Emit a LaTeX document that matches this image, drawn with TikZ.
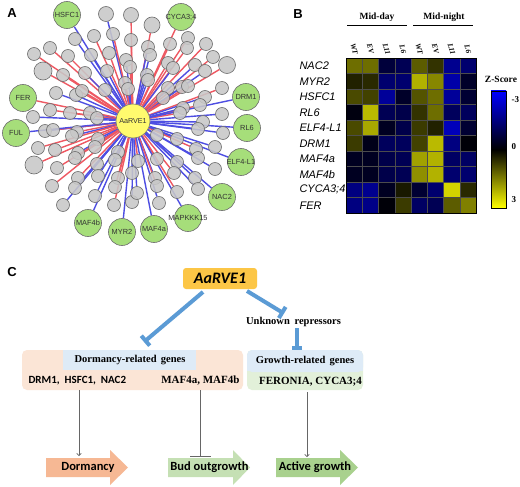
\documentclass[tikz,border=0pt]{standalone}
\usepackage{fontspec}
\setmainfont{Liberation Serif}
\setsansfont{Liberation Sans}
\newfontfamily\calibri{Carlito}
\usetikzlibrary{arrows.meta,backgrounds}
\pgfdeclarelayer{bottom}
\pgfdeclarelayer{background}
\pgfsetlayers{bottom,background,main}
\newcommand{\myfs}[1]{\fontsize{#1}{#1}\selectfont}
\definecolor{edgeR}{RGB}{238,88,98}
\definecolor{edgeB}{RGB}{78,78,226}
\definecolor{grayfill}{RGB}{200,200,200}
\definecolor{grayline}{RGB}{110,110,110}
\definecolor{greenfill}{RGB}{166,222,122}
\definecolor{yelfill}{RGB}{255,250,110}
\definecolor{hmblue}{RGB}{0,0,255}
\definecolor{hmyel}{RGB}{255,255,0}
\definecolor{rvefill}{RGB}{252,198,70}
\definecolor{peach}{RGB}{251,229,214}
\definecolor{lblue}{RGB}{222,235,247}
\definecolor{lgreen}{RGB}{226,240,217}
\definecolor{inhblue}{RGB}{91,155,213}
\definecolor{dormc}{RGB}{246,184,148}
\definecolor{budc}{RGB}{197,224,180}
\definecolor{actc}{RGB}{169,209,142}
\begin{document}
\begin{tikzpicture}[x=1pt,y=-1pt,
  panel/.style={font=\sffamily\bfseries\myfs{13}},
  graynode/.style={circle,draw=grayline,fill=grayfill,fill opacity=0.88,line width=0.6pt,inner sep=0pt},
  greennode/.style={circle,draw=grayline,fill=greenfill,line width=0.6pt,inner sep=0pt,minimum size=27pt,
    label={[font=\sffamily\myfs{7.4},text=black!80]center:#1}},
  centernode/.style={circle,draw=grayline,fill=yelfill,line width=0.6pt,inner sep=0pt,minimum size=34pt,
    font=\sffamily\myfs{7.2},text=black!80},
  eR/.style={draw=edgeR,line width=1.4pt},
  eB/.style={draw=edgeB,line width=1.4pt},
  rowlab/.style={anchor=west,font=\sffamily\itshape\myfs{11}},
  collab/.style={rotate=-75,font=\bfseries\itshape\myfs{7.5},inner sep=0pt},
  hdr/.style={font=\bfseries\myfs{9.5}},
  cbl/.style={anchor=west,font=\bfseries\myfs{9}},
  inh/.style={draw=inhblue,line width=4pt,-{Bar[width=13pt]}},
  inhs/.style={draw=inhblue,line width=4pt,-{Bar[width=10pt]}},
  thin/.style={draw=black!60,line width=0.7pt,-{To[length=3pt,width=5pt]}},
  thinbar/.style={draw=black!60,line width=0.7pt,-{Bar[width=21pt]}},
  boxtxt/.style={font=\bfseries\myfs{10.5}},
  genetxt/.style={font=\bfseries\myfs{11}},
  caltxt/.style={font=\calibri\bfseries\myfs{11}},
  arrtxt/.style={font=\calibri\bfseries\myfs{12.5}}
]
\useasboundingbox (0,0) rectangle (520,487);
\begin{pgfonlayer}{bottom}
\fill[white] (0,0) rectangle (520,487);
\end{pgfonlayer}

% ================= Panel A =================
\node[panel] (lA) at (12,13) {A};
\def\graylist{106/14/7.5/B, 131/15/7.5/R, 94/36/6.5/R, 113/34/6.5/R, 75/39/6.5/B, 131/40/6.5/R, 50/48/6.5/R, 34/54/6.5/R, 68/56/6.5/R, 91/55/6.5/B, 109/53/6.5/R, 126/60/6.5/B, 43/71/9/R, 63/75/6.5/R, 85/73/6.5/B, 107/71/6.5/B, 130/67/6.5/R, 56/93/6.5/B, 76/95/6.5/B, 82/91/6.5/R, 105/90/6.5/B, 125/83/6.5/R, 128/89/6.5/B, 50/110/6.5/R, 70/113/6.5/R, 90/113/6.5/B, 33/117/6.5/B, 97/118/6.5/B,
152/25/8/R, 148/47/6.5/B, 150/55/6.5/B, 170/44/6.5/R, 188/38/6.5/R, 187/48/6.5/R, 206/44/6.5/R, 213/57/6.5/R, 227/65/8.5/R, 168/63/6.5/R, 173/68/6.5/B, 195/65/6.5/B, 205/71/6.5/B, 147/75/6.5/B, 148/80/6.5/B, 168/88/6.5/R, 182/87/6.5/B, 188/86/6.5/R, 222/88/6.5/R, 163/98/6.5/R, 205/97/6.5/B, 200/105/6.5/R, 183/108/6.5/B, 180/113/6.5/R, 222/114/6.5/B, 203/122/6.5/B,
45/131/6.5/B, 53/130/6.5/R, 77/132/6.5/R, 72/136/6.5/B, 98/139/6.5/B, 38/148/6.5/R, 55/150/6.5/R, 78/153/6.5/B, 75/158/6.5/R, 95/147/6.5/R, 118/152/6.5/B, 34/165/9/R, 57/168/6.5/R, 97/164/6.5/B, 115/160/6.5/R, 78/178/6.5/R, 98/176/6.5/B, 118/178/6.5/R, 52/186/6.5/R, 75/188/6.5/B, 115/187/6.5/R, 95/196/6.5/B, 63/205/6.5/B, 114/205/6.5/R, 132/173/6.5/B, 132/202/6.5/B,
198/129/6.5/B, 223/133/6.5/B, 157/135/6.5/R, 177/139/6.5/B, 196/149/6.5/R, 215/147/6.5/B, 138/161/6.5/R, 157/159/6.5/R, 198/158/6.5/B, 177/162/6.5/B, 174/173/6.5/R, 215/169/6.5/B, 155/178/6.5/B, 157/186/6.5/R, 195/178/6.5/B, 198/189/6.5/B, 137/193/6.5/B, 177/192/6.5/R, 159/203/6.5/B}
\foreach \x/\y/\rr/\cc [count=\i] in \graylist {
  \node[graynode,minimum size=2*\rr pt] (g\i) at (\x,\y) {};
}
\def\greenlist{hsfc/67/15/HSFC1/B, cyca/181/17/CYCA3;4/R, fer/23/98/FER/R, drm/246/97/DRM1/B, ful/16/133/FUL/B, rlsix/247/128/RL6/B, elf/241/162/ELF4-L1/B, nac/222/197/NAC2/B, mapk/188/218/MAPKKK15/B, mafa/154/229/MAF4a/B, myr/122/232/MYR2/B, mafb/88/223/MAF4b/B}
\foreach \nm/\x/\y/\lb/\cc in \greenlist {
  \node[greennode=\lb] (\nm) at (\x,\y) {};
}
\node[centernode] (rve) at (133,121) {AaRVE1};
\begin{pgfonlayer}{background}
  \foreach \x/\y/\rr/\cc [count=\i] in \graylist { \draw[e\cc] (rve) -- (g\i); }
  \foreach \nm/\x/\y/\lb/\cc in \greenlist { \draw[e\cc] (rve) -- (\nm); }
\end{pgfonlayer}

% ================= Panel B =================
\node[panel] (lB) at (298,14) {B};
\node[hdr] (mday) at (377,17) {Mid-day};
\node[hdr] (mnight) at (444,17) {Mid-night};
\draw[line width=0.6pt] (347,25) -- (407,25);
\draw[line width=0.6pt] (413,25) -- (473,25);
\foreach \lb [count=\col] in {WT,EV,L11,L6,WT,EV,L11,L6} {
  \node[collab] (cl\col) at ({346+(\col-0.5)*16.25},49) {\lb};
}
\foreach \lb [count=\row] in {NAC2,MYR2,HSFC1,RL6,ELF4-L1,DRM1,MAF4a,MAF4b,CYCA3;4,FER} {
  \node[rowlab] (rl\row) at (296,{58+(\row-0.5)*15.5}) {\lb};
}
\foreach \vals [count=\row] in {
  {1.3,1.3,-0.7,-1.0,1.1,0.6,-1.7,-1.3},
  {0.4,0.5,-1.3,-1.3,2.1,1.6,-2.0,-0.5},
  {0.9,0.8,-1.8,-0.5,1.0,1.3,-1.8,-0.6},
  {-0.2,2.2,-1.0,-0.9,0.6,1.3,-1.1,-1.1},
  {0.9,2.0,-0.4,-0.9,0.7,0.4,-2.2,-0.6},
  {0.7,-0.3,-1.1,-1.1,0.8,2.2,-1.5,-0.1},
  {-0.4,-0.4,-0.9,-1.0,1.9,2.1,-1.2,-1.2},
  {-0.4,-0.4,-0.9,-1.0,1.7,2.1,-1.3,-1.3},
  {-1.5,-1.7,-0.4,0.3,-0.6,-1.3,2.5,0.5},
  {-1.5,-1.6,-0.1,0.7,-1.2,-1.0,1.1,1.5}} {
  \foreach \v [count=\col] in \vals {
    \pgfmathtruncatemacro\pc{min(100,abs(\v)*100/3)}
    \ifdim \v pt<0pt \colorlet{cellc}{hmblue!\pc!black}\else\colorlet{cellc}{hmyel!\pc!black}\fi
    \filldraw[fill=cellc,draw=black!70,line width=0.35pt] ({346+(\col-1)*16.25},{58+(\row-1)*15.5}) rectangle ++(16.25,15.5);
  }
}
\draw[line width=0.6pt] (346,58) rectangle (476,213);
% colour bar
\shade[top color=hmblue,bottom color=black] (491,91) rectangle (506,149.5);
\shade[top color=black,bottom color=hmyel] (491,149.5) rectangle (506,208);
\draw[line width=0.6pt] (491,91) rectangle (506,208);
\node[font=\bfseries\myfs{9.5}] (zs) at (501,79) {Z-Score};
\node[cbl] (cbm) at (508,100) {-3};
\node[cbl] (cbz) at (508,147) {0};
\node[cbl] (cbp) at (508,200) {3};

% ================= Panel C =================
\node[panel] (lC) at (12,272) {C};
\node[fill=rvefill,rounded corners=3pt,minimum width=74pt,minimum height=21pt,inner sep=0pt,
  font=\calibri\bfseries\itshape\myfs{16}] (rve2) at (220,278.5) {AaRVE1};
\node[font=\bfseries\myfs{10.5}] (unk) at (293.5,322) {Unknown\hspace{0.45em}repressors};

\fill[peach,rounded corners=5pt] (22,350) rectangle (243,390);
\fill[lblue] (63,350) rectangle (196,370);
\node[boxtxt] (dhead) at (130,360) {Dormancy-related\hspace{0.4em}genes};
\node[caltxt,anchor=west] (dgenes) at (25,381) {DRM1,\hspace{0.45em}HSFC1,\hspace{0.45em}NAC2};
\node[genetxt,anchor=east] (mgenes) at (243,381) {MAF4a, MAF4b};

\fill[lgreen,rounded corners=5pt] (247,350) rectangle (363,390);
\fill[lblue,rounded corners=5pt] (247,350) rectangle (363,372);
\fill[lblue] (247,362) rectangle (363,371);
\node[boxtxt] (ghead) at (305,361.5) {Growth-related\hspace{0.4em}genes};
\node[genetxt] (ggenes) at (310.5,382) {FERONIA, CYCA3;4};

% inhibition arrows
\coordinate (i1a) at (203,292);
\coordinate (i1b) at (144,342);
\coordinate (i2a) at (247,291);
\coordinate (i2b) at (284,313.5);
\coordinate (i3a) at (297,328);
\coordinate (i3b) at (297,350);
\draw[inh] (i1a) -- (i1b);
\draw[inh] (i2a) -- (i2b);
\draw[inhs] (i3a) -- (i3b);

% block arrows
\fill[dormc] (46,458) -- (110,458) -- (110,450) -- (128,467.5) -- (110,485) -- (110,477) -- (46,477) -- cycle;
\fill[budc] (168,458) -- (233,458) -- (233,450) -- (250,467.5) -- (233,485) -- (233,477) -- (168,477) -- cycle;
\fill[actc] (276,458) -- (340,458) -- (340,450) -- (358,467.5) -- (340,485) -- (340,477) -- (276,477) -- cycle;
\node[arrtxt] (dorm) at (88,467.5) {Dormancy};
\node[arrtxt] (bud) at (209.5,467.5) {Bud outgrowth};
\node[arrtxt] (act) at (315,467.5) {Active growth};

% thin connectors
\coordinate (t1a) at (79,390);
\coordinate (t1b) at (79,456);
\coordinate (t2a) at (200,390);
\coordinate (t2b) at (200,457);
\coordinate (t3a) at (307,392);
\coordinate (t3b) at (307,457);
\draw[thin] (t1a) -- (t1b);
\draw[thinbar] (t2a) -- (t2b);
\draw[thin] (t3a) -- (t3b);
\end{tikzpicture}
\end{document}
